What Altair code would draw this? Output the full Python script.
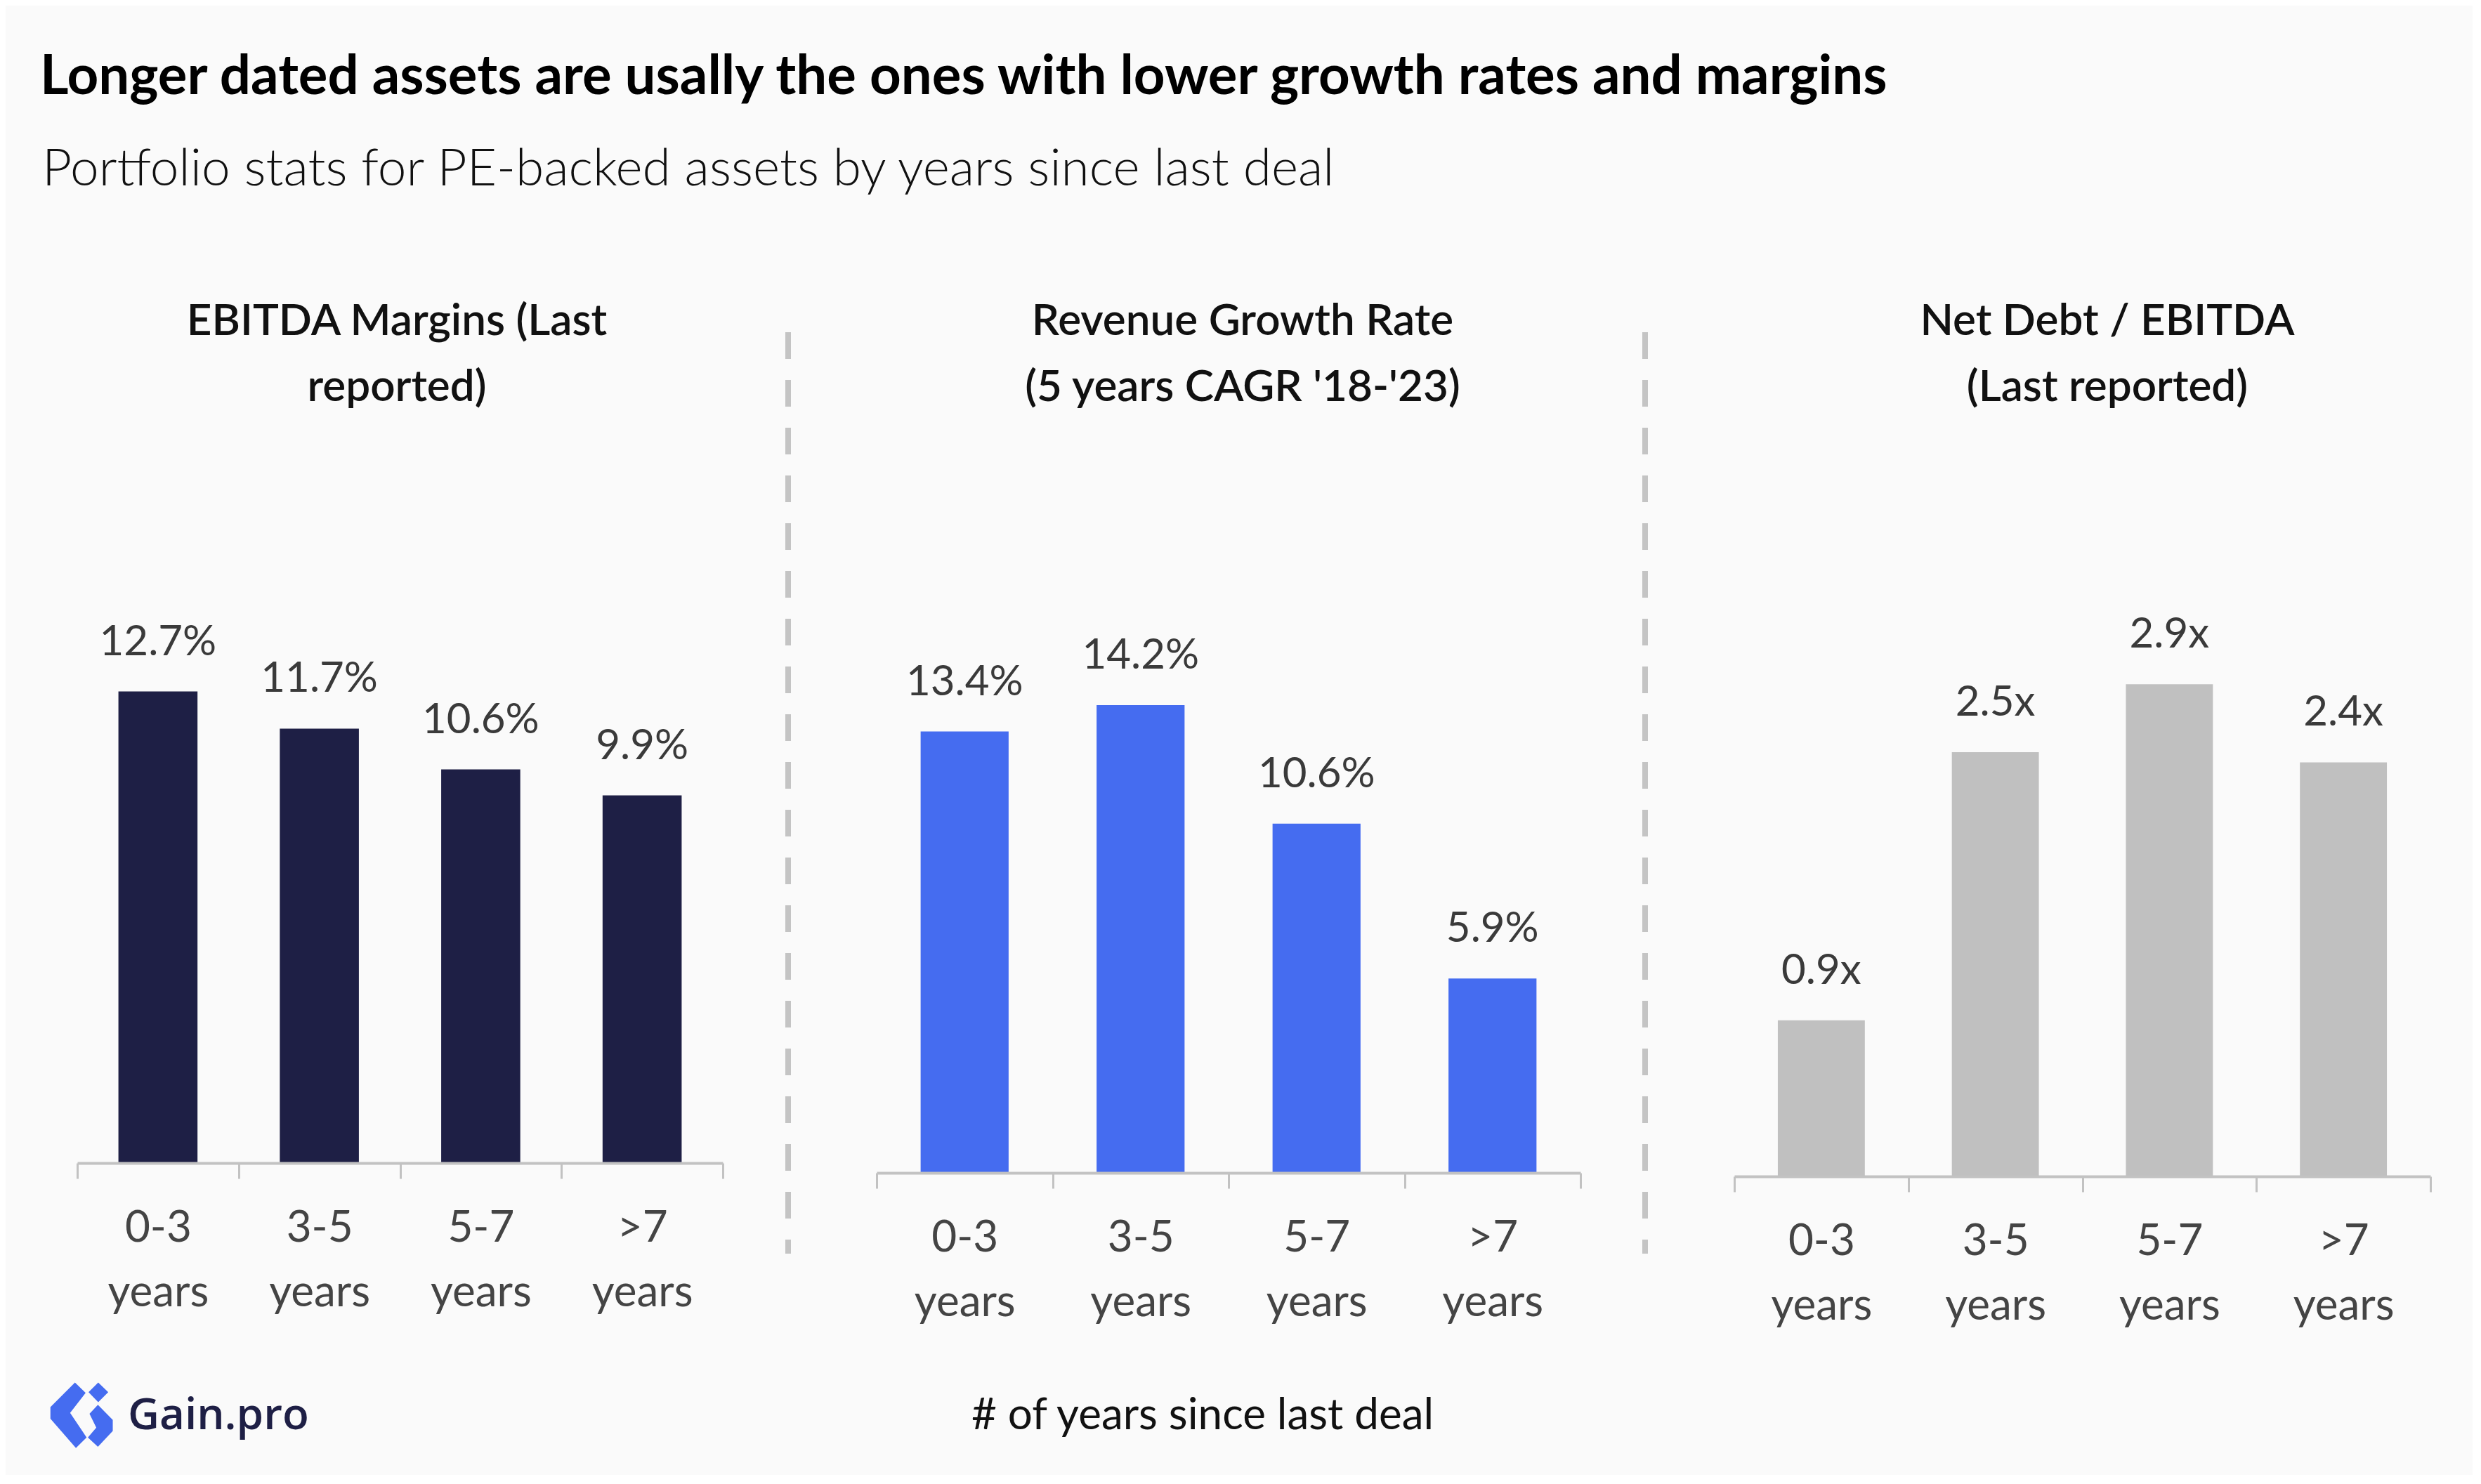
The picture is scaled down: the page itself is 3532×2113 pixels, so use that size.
import altair as alt
import pandas as pd

# ---- data ----
categories = ["0-3 years", "3-5 years", "5-7 years", ">7 years"]
ebitda_margin = [12.7, 11.7, 10.6, 9.9]
revenue_growth = [13.4, 14.2, 10.6, 5.9]
net_debt_ebitda = [0.92, 2.5, 2.9, 2.44]

title_text = "Longer dated assets are usally the ones with lower growth rates and margins"
subtitle_text = "Portfolio stats for PE-backed assets by years since last deal"
headings = [
    "EBITDA Margins (Last\nreported)",
    "Revenue Growth Rate\n(5 years CAGR '18-'23)",
    "Net Debt / EBITDA\n(Last reported)",
]
footer_text = "# of years since last deal"
brand_text = "Gain.pro"

FONT = "Lato"
GRID = "#C2C2C2"
BG = "#FAFAFA"

one = pd.DataFrame({"k": [0]})

LOGO_PATH = (
    "M -0.18 -0.99 L 0.15 -0.67 L -0.33 -0.05 L 0.18 0.71 L -0.15 1.04 L -0.94 0.13 L -0.94 -0.23 Z "
    "M 0.54 -0.99 L 0.85 -0.69 L 0.54 -0.38 L 0.24 -0.69 Z "
    "M 0.53 -0.30 L 0.99 0.17 L 0.99 0.51 L 0.53 1.0 L 0.22 0.71 L 0.48 0.41 L 0.27 -0.02 Z"
)


def panel(values, suffix, color, W, H, ymax, heading, hx, band, extras):
    df = pd.DataFrame({
        "cat": categories,
        "val": values,
        "lab": [f"{v:.1f}{suffix}" for v in values],
    })
    base = alt.Chart(df).encode(
        x=alt.X(
            "cat:N",
            sort=categories,
            scale=alt.Scale(paddingInner=0, paddingOuter=0),
            axis=alt.Axis(
                title=None,
                labelExpr="split(datum.label, ' ')",
                labelAngle=0,
                labelFont=FONT,
                labelFontSize=62,
                labelColor="#444444",
                labelLineHeight=92,
                labelBaseline="alphabetic",
                labelPadding=89,
                tickBand="extent",
                tickSize=22,
                tickWidth=3,
                tickColor=GRID,
                domainColor=GRID,
                domainWidth=4,
                grid=False,
                zindex=1,
            ),
        ),
        y=alt.Y("val:Q", scale=alt.Scale(domain=[0, ymax]), axis=None),
    )
    bars = base.mark_bar(color=color, width={"band": band})
    labels = base.mark_text(
        dy=-52, baseline="alphabetic", font=FONT, fontSize=60, color="#3a3a3a"
    ).encode(text="lab:N")
    head = alt.Chart(one).mark_text(
        text=heading, lineBreak="\n", lineHeight=94, font=FONT, fontSize=62,
        fontWeight=600, color="#111111", align="center", baseline="alphabetic",
    ).encode(x=alt.value(hx), y=alt.value(-333))
    layers = extras[:1] + [bars, labels, head] + extras[1:]
    return alt.layer(*layers).properties(width=W, height=H)


W1, H1 = 919, 846
W2, H2 = 1002, 860
W3, H3 = 991, 865

bg = alt.Chart(one).mark_rect(fill=BG).encode(
    x=alt.value(-102), x2=alt.value(3410), y=alt.value(-802), y2=alt.value(1290)
)
sep1 = alt.Chart(one).mark_rule(color="#C4C4C4", strokeWidth=8, strokeDash=[38, 30]).encode(
    x=alt.value(1012), y=alt.value(-337), y2=alt.value(975)
)
sep2 = alt.Chart(one).mark_rule(color="#C4C4C4", strokeWidth=8, strokeDash=[38, 30]).encode(
    x=alt.value(1094), y=alt.value(-337), y2=alt.value(975)
)
title = alt.Chart(one).mark_text(
    text=title_text, font=FONT, fontSize=78, fontWeight=700, color="#000000",
    align="left", baseline="alphabetic",
).encode(x=alt.value(-53), y=alt.value(-676))
subtitle = alt.Chart(one).mark_text(
    text=subtitle_text, font=FONT, fontSize=73, fontWeight=300, color="#111111",
    align="left", baseline="alphabetic",
).encode(x=alt.value(-50), y=alt.value(-546))
logo = alt.Chart(one).mark_point(
    shape=LOGO_PATH, filled=True, fill="#456CF0", opacity=1, strokeWidth=0, size=8464,
).encode(x=alt.value(5), y=alt.value(1204))
brand = alt.Chart(one).mark_text(
    text=brand_text, font="Open Sans", fontSize=62, fontWeight=600, color="#1E1F45",
    align="left", baseline="alphabetic",
).encode(x=alt.value(72), y=alt.value(1225))
footer = alt.Chart(one).mark_text(
    text=footer_text, font=FONT, fontSize=62, color="#111111",
    align="center", baseline="alphabetic",
).encode(x=alt.value(464), y=alt.value(1225))

p1 = panel(ebitda_margin, "%", "#1E1F45", W1, H1, H1 / 52.87, headings[0], 455, 0.49,
           [bg, sep1, title, subtitle, logo, brand])
p2 = panel(revenue_growth, "%", "#456CF0", W2, H2, H2 / 46.9, headings[1], 521, 0.5,
           [sep2, footer])
p3 = panel(net_debt_ebitda, "x", "#C0C0C0", W3, H3, H3 / 241.6, headings[2], 531, 0.5, [])

chart = alt.hconcat(p1, p2, p3, spacing=219, bounds="flush").properties(
    padding=0, background=BG
).configure_view(stroke=None)

chart.save("out.html", embed_options={"renderer": "svg", "actions": False})
